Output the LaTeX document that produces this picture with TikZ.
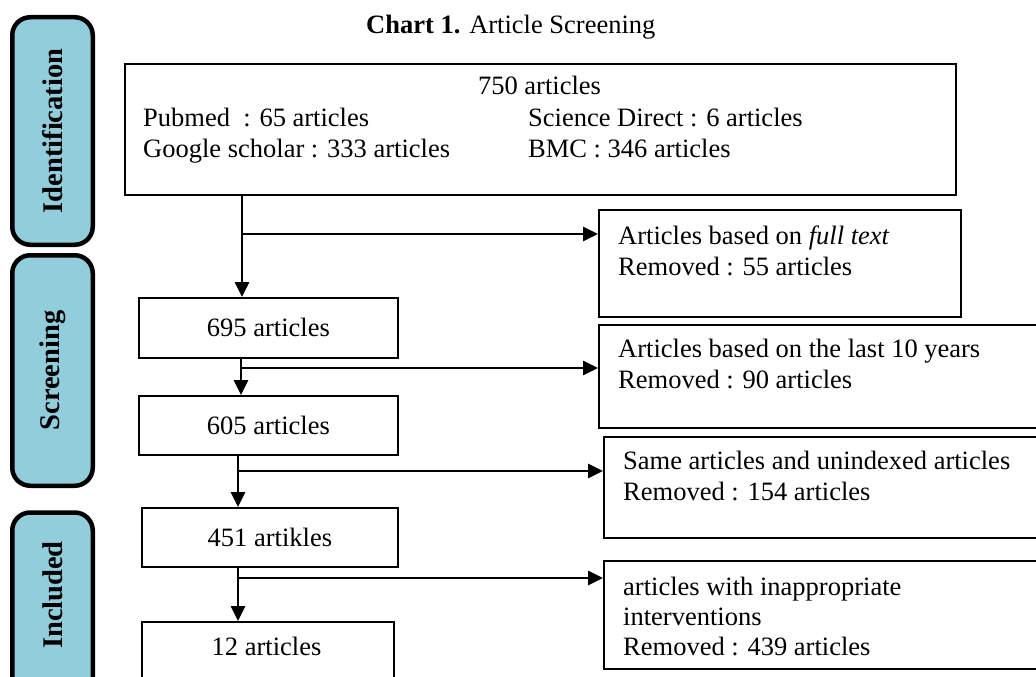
\documentclass[tikz,border=0pt]{standalone}
\usepackage{fontspec}
\setmainfont{Liberation Serif}
\usetikzlibrary{arrows.meta}
\definecolor{pillblue}{HTML}{92CDDC}
\begin{document}
\begin{tikzpicture}[x=1pt,y=-1pt,
  box/.style={draw=black, line width=1.8pt, rectangle, inner sep=0pt, anchor=north west},
  pill/.style={draw=black, line width=4.5pt, fill=pillblue, rounded corners=18pt, inner sep=0pt, minimum width=80.5pt},
  txt/.style={font=\fontsize{26.5}{31}\selectfont, inner sep=0pt},
  lab/.style={font=\fontsize{28.5}{32}\selectfont\bfseries, rotate=90, inner sep=0pt},
  conn/.style={line width=2.6pt},
  arr/.style={conn, -{Triangle[length=15pt,width=14pt]}},
]
\useasboundingbox (0,0) rectangle (1036,677);
\clip (0,0) rectangle (1036,677);

% title
\node[txt, anchor=base west] (title) at (366,34) {\textbf{Chart 1.} Article Screening};

% stage pills
\node[pill, minimum height=227.5pt] (pid) at (52.5,131) {};
\node[lab] (lid) at (pid.center) {Identification};
\node[pill, minimum height=230.5pt] (psc) at (52.5,370.5) {};
\node[lab] (lsc) at (psc.center) {Screening};
\node[pill, minimum height=190pt, anchor=north] (pin) at (52.5,510.25) {};
\node[lab] (lin) at (52.5,595) {Included};

% top box
\node[box, minimum width=831pt, minimum height=131pt] (top) at (124,63) {};
\node[txt, anchor=base] (t750) at (539.5,95) {750 articles};
\node[txt, anchor=base west] (tpub) at (143,126) {Pubmed\ \ : 65 articles};
\node[txt, anchor=base west] (tgoo) at (143,157) {Google scholar : 333 articles};
\node[txt, anchor=base west] (tsci) at (528,126) {Science Direct : 6 articles};
\node[txt, anchor=base west] (tbmc) at (528,157) {BMC : 346 articles};

% left column boxes
\node[box, txt, minimum width=259pt, minimum height=60pt] (b695) at (138,297) {695 articles};
\node[box, txt, minimum width=259pt, minimum height=59pt] (b605) at (138,395) {605 articles};
\node[box, txt, minimum width=256pt, minimum height=59pt] (b451) at (141,507) {451 artikles};
\node[box, minimum width=252pt, minimum height=90pt] (b12) at (141,621) {};
\node[txt, anchor=base] (t12) at (266.5,655) {12 articles};

% right column boxes
\node[box, minimum width=362pt, minimum height=107pt] (r1) at (598,209) {};
\node[txt, anchor=base west] (r1a) at (618,244) {Articles based on \textit{full text}};
\node[txt, anchor=base west] (r1b) at (618,275) {Removed : 55 articles};

\node[box, minimum width=460pt, minimum height=103pt] (r2) at (598,324) {};
\node[txt, anchor=base west] (r2a) at (618,357) {Articles based on the last 10 years};
\node[txt, anchor=base west] (r2b) at (618,388) {Removed : 90 articles};

\node[box, minimum width=460pt, minimum height=101pt] (r3) at (603,436) {};
\node[txt, anchor=base west] (r3a) at (623,469) {Same articles and unindexed articles};
\node[txt, anchor=base west] (r3b) at (623,500) {Removed : 154 articles};

\node[box, minimum width=460pt, minimum height=108pt] (r4) at (603,560) {};
\node[txt, anchor=base west] (r4a) at (623,595) {articles with inappropriate};
\node[txt, anchor=base west] (r4b) at (623,625) {interventions};
\node[txt, anchor=base west] (r4c) at (623,655) {Removed : 439 articles};

% connectors
\coordinate (j1) at (242,234);
\coordinate (j2) at (241,368);
\coordinate (j3) at (238,471);
\coordinate (j4) at (238,578);

\draw[arr] (top.south -| j1) -- (b695.north -| j1);
\draw[arr] (j1) -- (r1.west |- j1);
\draw[arr] (b695.south -| j2) -- (b605.north -| j2);
\draw[arr] (j2) -- (r2.west |- j2);
\draw[arr] (b605.south -| j3) -- (b451.north -| j3);
\draw[arr] (j3) -- (r3.west |- j3);
\draw[arr] (b451.south -| j4) -- (b12.north -| j4);
\draw[arr] (j4) -- (r4.west |- j4);
\end{tikzpicture}
\end{document}
